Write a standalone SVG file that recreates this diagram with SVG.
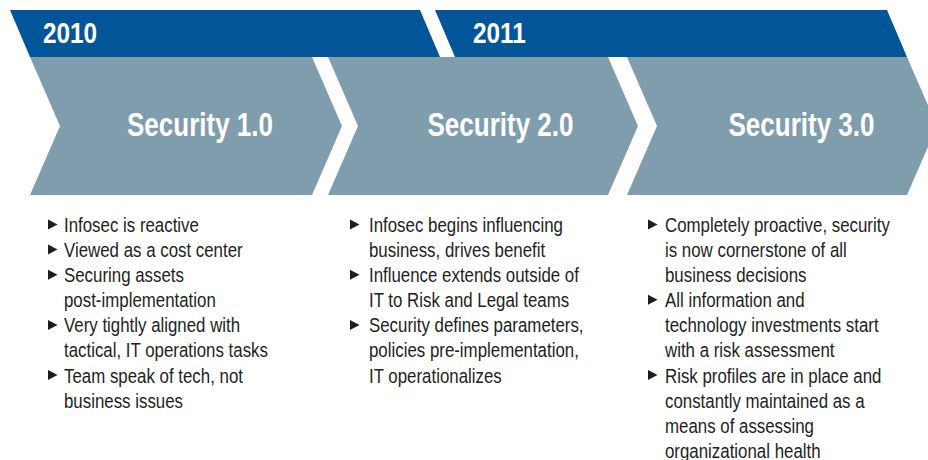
<svg xmlns="http://www.w3.org/2000/svg" width="928" height="460" viewBox="0 0 928 460">
  <defs>
    <style>
      .bar { fill: #03559a; }
      .chev { fill: #809dad; }
      .year { font-family: "Liberation Sans", Arial, sans-serif; font-weight: bold; font-size: 29px; fill: #ffffff; }
      .title { font-family: "Liberation Sans", Arial, sans-serif; font-weight: bold; font-size: 32.5px; fill: #ffffff; text-anchor: middle; }
      .item { font-family: "Liberation Sans", Arial, sans-serif; font-size: 19.5px; fill: #1e1e1e; }
      .bullet { fill: #1e1e1e; }
    </style>
    <polygon id="tri" points="0,0 9.5,5 0,10"/>
  </defs>

  <rect width="928" height="460" fill="#ffffff"/>

  <!-- year bands -->
  <g id="year-2010">
    <polygon class="bar" points="10,10 420,10 440,57 30,57"/>
    <text class="year" transform="translate(43,43) scale(0.84,1)">2010</text>
  </g>
  <g id="year-2011">
    <polygon class="bar" points="435,10 887,10 907,57 455,57"/>
    <text class="year" transform="translate(473,43) scale(0.84,1)">2011</text>
  </g>

  <!-- stage chevrons -->
  <g id="security-1">
    <polygon class="chev" points="30,57 312,57 342,126 312,195 30,195 60,126"/>
    <text class="title" transform="translate(200,136) scale(0.8,1)">Security 1.0</text>
  </g>
  <g id="security-2">
    <polygon class="chev" points="328,57 608,57 638,126 608,195 328,195 358,126"/>
    <text class="title" transform="translate(500.5,136) scale(0.8,1)">Security 2.0</text>
  </g>
  <g id="security-3">
    <polygon class="chev" points="627,57 907,57 937,126 907,195 627,195 657,126"/>
    <text class="title" transform="translate(801.5,136) scale(0.8,1)">Security 3.0</text>
  </g>

  <!-- characteristics of each stage -->
  <g id="list-1">
    <use href="#tri" class="bullet" x="48" y="219.5"/>
    <use href="#tri" class="bullet" x="48" y="244.6"/>
    <use href="#tri" class="bullet" x="48" y="269.7"/>
    <use href="#tri" class="bullet" x="48" y="319.9"/>
    <use href="#tri" class="bullet" x="48" y="370.1"/>
    <text class="item" transform="translate(64,232) scale(0.865,1)">
      <tspan x="0" y="0">Infosec is reactive</tspan>
      <tspan x="0" y="25.1">Viewed as a cost center</tspan>
      <tspan x="0" y="50.2">Securing assets</tspan>
      <tspan x="0" y="75.3">post-implementation</tspan>
      <tspan x="0" y="100.4">Very tightly aligned with</tspan>
      <tspan x="0" y="125.5">tactical, IT operations tasks</tspan>
      <tspan x="0" y="150.6">Team speak of tech, not</tspan>
      <tspan x="0" y="175.7">business issues</tspan>
    </text>
  </g>

  <g id="list-2">
    <use href="#tri" class="bullet" x="350" y="219.5"/>
    <use href="#tri" class="bullet" x="350" y="269.7"/>
    <use href="#tri" class="bullet" x="350" y="319.9"/>
    <text class="item" transform="translate(369,232) scale(0.865,1)">
      <tspan x="0" y="0">Infosec begins influencing</tspan>
      <tspan x="0" y="25.1">business, drives benefit</tspan>
      <tspan x="0" y="50.2">Influence extends outside of</tspan>
      <tspan x="0" y="75.3">IT to Risk and Legal teams</tspan>
      <tspan x="0" y="100.4">Security defines parameters,</tspan>
      <tspan x="0" y="125.5">policies pre-implementation,</tspan>
      <tspan x="0" y="150.6">IT operationalizes</tspan>
    </text>
  </g>

  <g id="list-3">
    <use href="#tri" class="bullet" x="648" y="219.5"/>
    <use href="#tri" class="bullet" x="648" y="294.8"/>
    <use href="#tri" class="bullet" x="648" y="370.1"/>
    <text class="item" transform="translate(665,232) scale(0.865,1)">
      <tspan x="0" y="0">Completely proactive, security</tspan>
      <tspan x="0" y="25.1">is now cornerstone of all</tspan>
      <tspan x="0" y="50.2">business decisions</tspan>
      <tspan x="0" y="75.3">All information and</tspan>
      <tspan x="0" y="100.4">technology investments start</tspan>
      <tspan x="0" y="125.5">with a risk assessment</tspan>
      <tspan x="0" y="150.6">Risk profiles are in place and</tspan>
      <tspan x="0" y="175.7">constantly maintained as a</tspan>
      <tspan x="0" y="200.8">means of assessing</tspan>
      <tspan x="0" y="225.9">organizational health</tspan>
    </text>
  </g>

  <g id="connectors"/>
</svg>
